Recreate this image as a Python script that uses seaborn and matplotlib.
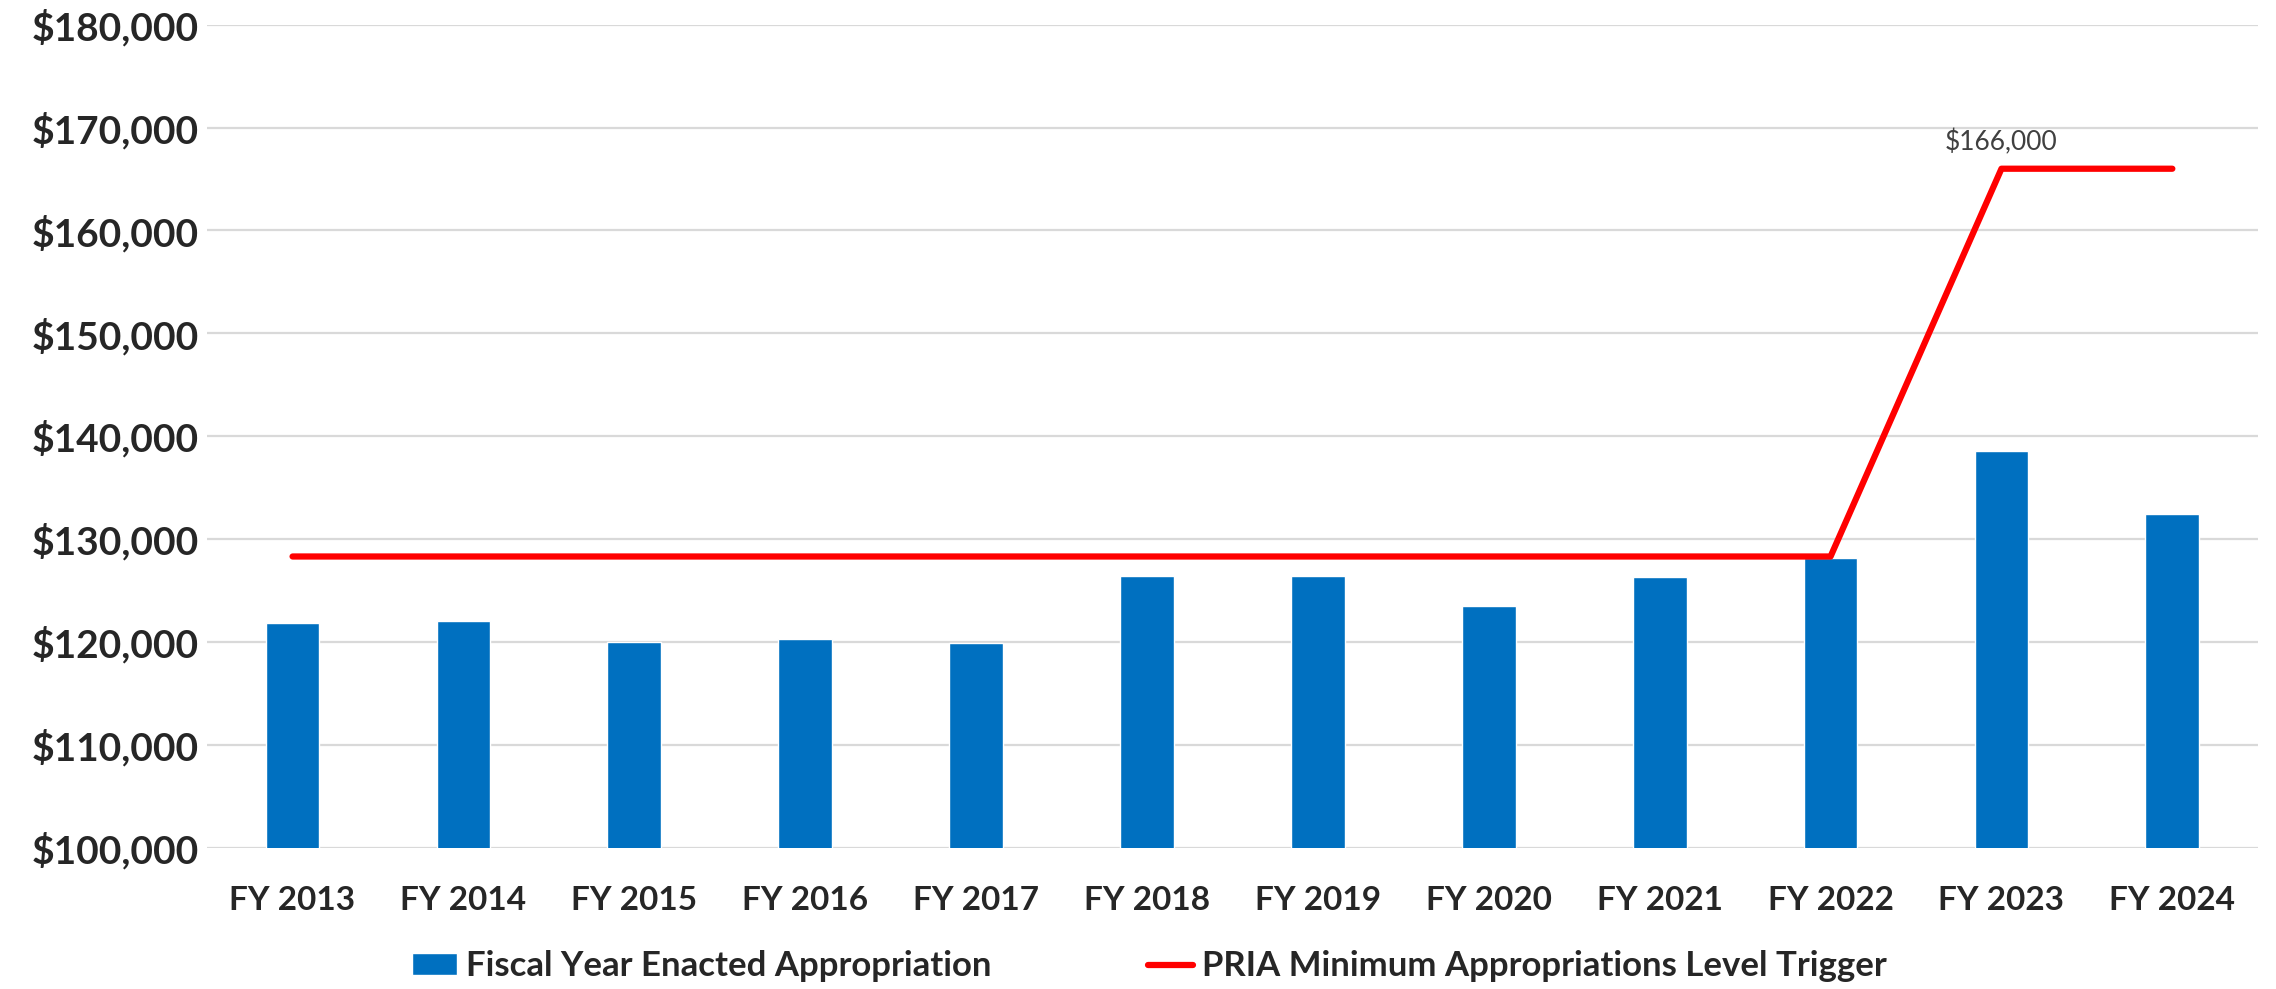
import pandas as pd
import seaborn as sns
import matplotlib.pyplot as plt
from matplotlib.ticker import FuncFormatter, MultipleLocator

years = ['FY 2013', 'FY 2014', 'FY 2015', 'FY 2016', 'FY 2017', 'FY 2018',
         'FY 2019', 'FY 2020', 'FY 2021', 'FY 2022', 'FY 2023', 'FY 2024']
enacted = [121800, 122000, 120000, 120230, 119870, 126370,
           126400, 123440, 126270, 128200, 138600, 132450]
trigger = [128300, 128300, 128300, 128300, 128300, 128300,
           128300, 128300, 128300, 128300, 166000, 166000]

df = pd.DataFrame({'Year': years, 'Enacted': enacted, 'Trigger': trigger})
df['pos'] = range(len(df))

sns.set_style('white')
plt.rcParams['font.family'] = ['Lato', 'DejaVu Sans']

fig, ax = plt.subplots(figsize=(22.76, 9.89), dpi=100)
fig.subplots_adjust(left=0.091, right=0.992, top=0.975, bottom=0.143)

sns.barplot(x='Year', y='Enacted', data=df, color='#0070C0', width=0.315,
            saturation=1, ax=ax, label='Fiscal Year Enacted Appropriation', zorder=2)
sns.lineplot(x='pos', y='Trigger', data=df, color='#FF0000', linewidth=4.5,
             ax=ax, label='PRIA Minimum Appropriations Level Trigger', zorder=3,
             solid_capstyle='round', sort=False)

# label on the FY 2023 trigger point
ax.annotate('${:,.0f}'.format(trigger[10]), xy=(10, trigger[10]), xytext=(0, 10),
            textcoords='offset points', ha='center', va='bottom',
            fontsize=19, color='#404040')

ax.set_ylim(100000, 180000)
ax.set_xlim(-0.5, len(years) - 0.5)
ax.yaxis.set_major_locator(MultipleLocator(10000))
ax.yaxis.set_major_formatter(FuncFormatter(lambda v, p: '${:,.0f}'.format(v)))
ax.grid(axis='y', color='#d9d9d9', linewidth=1.6, zorder=0)
ax.set_axisbelow(True)
sns.despine(ax=ax, left=True, bottom=True)
ax.tick_params(axis='both', length=0, labelsize=24)
ax.tick_params(axis='y', pad=6, labelsize=28)
ax.tick_params(axis='x', pad=28)
for t in ax.get_xticklabels() + ax.get_yticklabels():
    t.set_fontweight('bold')
ax.set_xlabel('')
ax.set_ylabel('')

handles, labels = ax.get_legend_handles_labels()
order = [labels.index('Fiscal Year Enacted Appropriation'),
         labels.index('PRIA Minimum Appropriations Level Trigger')]
ax.legend([handles[i] for i in order], [labels[i] for i in order],
          loc='lower center', bbox_to_anchor=(0.505, -0.025), bbox_transform=fig.transFigure,
          ncol=2, frameon=False, prop={'size': 25, 'weight': 'bold'},
          handlelength=1.3, handleheight=0.6, handletextpad=0.25, columnspacing=4.5)

plt.savefig('out.png')
